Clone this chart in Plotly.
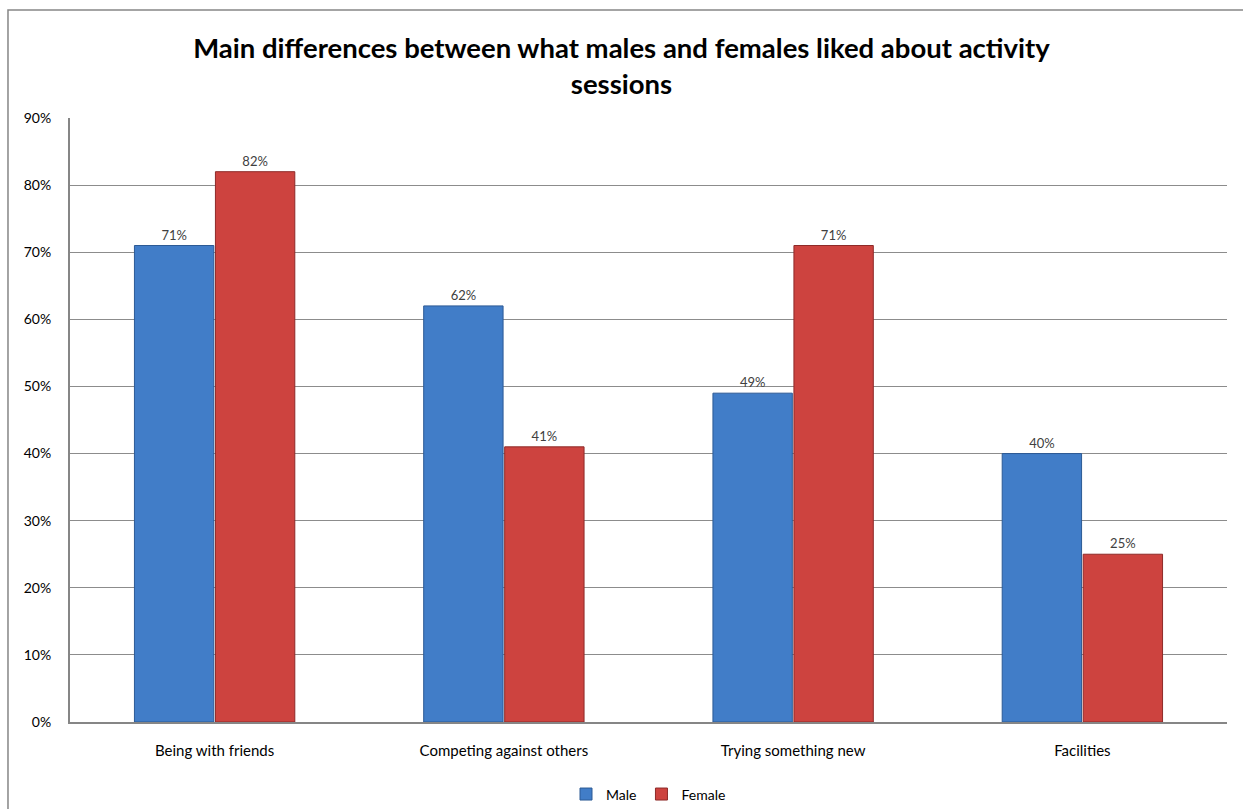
import plotly.graph_objects as go

categories = ["Being with friends", "Competing against others", "Trying something new", "Facilities"]
male = [71, 62, 49, 40]
female = [82, 41, 71, 25]
yticks = [0, 10, 20, 30, 40, 50, 60, 70, 80, 90]

fig = go.Figure()
fig.add_trace(go.Bar(
    name="Male", x=categories, y=male,
    text=[f"{v}%" for v in male], textposition="outside",
    textfont=dict(size=13, color="#404040"),
    marker=dict(color="#417DC8", line=dict(color="#2C5A95", width=1)),
    cliponaxis=False,
))
fig.add_trace(go.Bar(
    name="Female", x=categories, y=female,
    text=[f"{v}%" for v in female], textposition="outside",
    textfont=dict(size=13, color="#404040"),
    marker=dict(color="#CD433F", line=dict(color="#8E2A28", width=1)),
    cliponaxis=False,
))

fig.update_layout(
    width=1243, height=809,
    margin=dict(l=70, r=16, t=118, b=87, autoexpand=False),
    paper_bgcolor="white", plot_bgcolor="white",
    font=dict(family="Lato, Open Sans, sans-serif", size=13, color="#000000"),
    title=dict(
        text="<b>Main differences between what males and females liked about activity<br>sessions</b>",
        x=0.5, xanchor="center", y=0.928, yanchor="top",
        font=dict(size=27.5, color="#000000"),
    ),
    barmode="group", bargap=0.44, bargroupgap=0.02,
    showlegend=True,
    legend=dict(orientation="h", x=0.5, xanchor="center", y=0.018, yanchor="middle",
                yref="container",
                font=dict(size=14), itemwidth=30, traceorder="normal"),
    xaxis=dict(showline=True, linecolor="#868686", linewidth=2, ticks="",
               ticklabelstandoff=14,
               tickfont=dict(size=15), showgrid=False),
    yaxis=dict(range=[0, 90], tickvals=yticks, ticktext=[f"{v}%" for v in yticks],
               showgrid=True, gridcolor="#8C8C8C", gridwidth=1,
               showline=True, linecolor="#868686", linewidth=2,
               ticks="", ticklabelstandoff=14,
               tickfont=dict(size=14), zeroline=False),
    shapes=[dict(type="rect", xref="paper", yref="paper",
                 x0=-0.0536, x1=1.02, y0=-0.25, y1=1.1788,
                 line=dict(color="#868686", width=1.5), fillcolor="rgba(0,0,0,0)", layer="below")],
)

fig.write_html("out.html")
